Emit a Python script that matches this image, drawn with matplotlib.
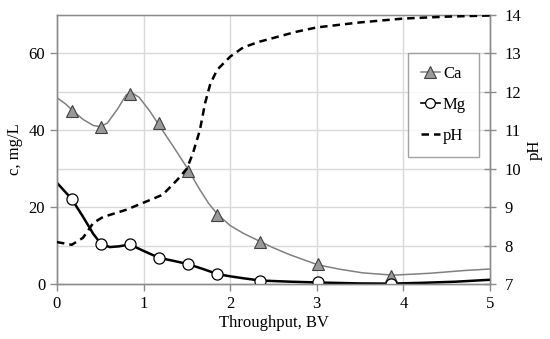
import matplotlib
matplotlib.use("Agg")
import matplotlib.pyplot as plt

plt.rcParams['font.family'] = ['Liberation Serif', 'DejaVu Serif']

# measured points (markers)
bv_pts = [0.17, 0.51, 0.84, 1.18, 1.51, 1.85, 2.35, 3.01, 3.86]
ca_pts = [45.0, 40.9, 49.4, 41.9, 29.4, 18.0, 11.0, 5.2, 2.1]
mg_pts = [22.1, 10.4, 10.3, 6.8, 5.2, 2.6, 0.9, 0.4, 0.1]

# smoothed Ca curve
ca_line_x = [0, 0.1, 0.17, 0.3, 0.42, 0.5, 0.58, 0.7, 0.8, 0.88, 0.95, 1.07, 1.19,
             1.35, 1.5, 1.65, 1.75, 1.85, 2.0, 2.15, 2.35, 2.5, 2.69, 3.01,
             3.25, 3.53, 3.88, 4.31, 4.7, 5.0]
ca_line_y = [48.4, 46.8, 45.3, 42.8, 41.2, 40.9, 41.8, 45.5, 49.2, 49.5, 48.5, 45.0, 40.9,
             35.5, 30.3, 24.5, 21.0, 18.2, 15.2, 13.2, 11.0, 9.4, 7.6, 5.0,
             3.9, 2.9, 2.3, 2.8, 3.5, 3.9]

# Mg curve
mg_line_x = [0, 0.17, 0.3, 0.42, 0.51, 0.61, 0.72, 0.84, 1.0, 1.18, 1.35, 1.51,
             1.7, 1.85, 2.0, 2.15, 2.35, 2.7, 3.01, 3.5, 3.86, 4.2, 4.6, 5.0]
mg_line_y = [26.3, 22.1, 17.5, 13.0, 10.4, 9.6, 9.8, 10.3, 8.6, 6.8, 6.0, 5.2,
             3.8, 2.6, 2.0, 1.5, 0.9, 0.6, 0.4, 0.15, 0.1, 0.3, 0.6, 1.1]

# pH curve
ph_x = [0, 0.17, 0.3, 0.42, 0.53, 0.8, 1.07, 1.22, 1.39, 1.5, 1.57, 1.65, 1.71,
        1.77, 1.85, 2.0, 2.15, 2.34, 2.77, 3.0, 3.5, 4.0, 4.5, 5.0]
ph_y = [8.09, 8.02, 8.2, 8.59, 8.74, 8.93, 9.18, 9.32, 9.71, 10.0, 10.4, 11.0, 11.7,
        12.2, 12.57, 12.91, 13.15, 13.30, 13.56, 13.67, 13.8, 13.9, 13.95, 13.98]

fig = plt.figure(figsize=(5.5, 3.39), dpi=100)
ax = fig.add_axes([0.1036, 0.1622, 0.7873, 0.7944])
ax2 = ax.twinx()

grid_c = '#d9d9d9'
spine_c = '#8c8c8c'

ax.set_xlim(0, 5)
ax.set_ylim(0, 70)
ax2.set_ylim(7, 14)

for v in range(10, 70, 10):
    ax.axhline(v, color=grid_c, lw=1, zorder=0)
for v in range(1, 5):
    ax.axvline(v, color=grid_c, lw=1, zorder=0)

ax.set_xticks(range(0, 6))
ax.set_yticks([0, 20, 40, 60])
ax2.set_yticks(range(7, 15))

for a in (ax, ax2):
    for s in a.spines.values():
        s.set_color(spine_c)
        s.set_linewidth(1)
ax.spines['top'].set_color('#bfbfbf')

ax.tick_params(axis='both', colors=spine_c, labelcolor='black', labelsize=12,
               length=5, width=1)
ax2.tick_params(axis='y', direction='inout', colors=spine_c, labelcolor='black',
                labelsize=12, length=9, width=1, pad=6)

ax.plot(ca_line_x, ca_line_y, color='#808080', lw=1.1, zorder=3)
ax.plot(bv_pts, ca_pts, linestyle='none', marker='^', markersize=9,
        markerfacecolor='#999999', markeredgecolor='#404040', markeredgewidth=0.8,
        zorder=4)
ax.plot(mg_line_x, mg_line_y, color='black', lw=1.8, zorder=3)
ax.plot(bv_pts, mg_pts, linestyle='none', marker='o', markersize=8,
        markerfacecolor='white', markeredgecolor='black', markeredgewidth=0.9,
        zorder=5)
ax2.plot(ph_x, ph_y, color='black', lw=1.8, linestyle=(0, (3, 2)), zorder=3)

ax.set_xlabel('Throughput, BV', fontsize=12, labelpad=2)
ax.set_ylabel('c, mg/L', fontsize=12, labelpad=4)
ax2.set_ylabel('pH', fontsize=12, labelpad=4)

h_ca = plt.Line2D([], [], color='#808080', lw=1.1, marker='^', markersize=8,
                  markerfacecolor='#999999', markeredgecolor='#404040', markeredgewidth=0.8)
h_mg = plt.Line2D([], [], color='black', lw=1.2, marker='o', markersize=7,
                  markerfacecolor='white', markeredgecolor='black', markeredgewidth=0.9)
h_ph = plt.Line2D([], [], color='black', lw=1.8, linestyle=(0, (3, 2)))
leg = ax2.legend([h_ca, h_mg, h_ph], ['Ca', 'Mg', 'pH'], loc='upper left',
                 bbox_to_anchor=(0.8106, 0.859), borderaxespad=0, fontsize=12,
                 frameon=True, fancybox=False, edgecolor=spine_c, handlelength=1.1,
                 handletextpad=0.2, labelspacing=0.9, borderpad=0.8)
leg.get_frame().set_linewidth(1)

fig.savefig('out.png', dpi=100)
